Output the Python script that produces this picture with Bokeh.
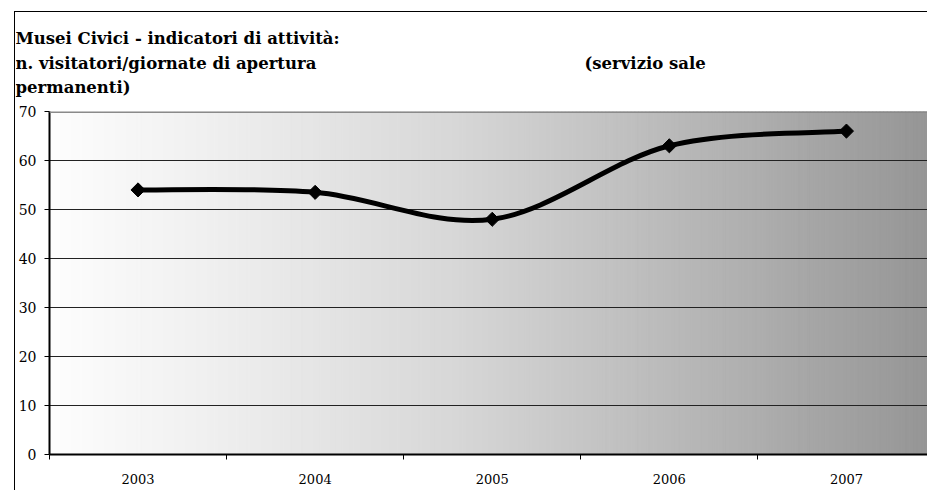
import numpy as np
from bokeh.plotting import figure
from bokeh.layouts import column
from bokeh.models import FixedTicker, Span, Range1d
from bokeh.core.properties import value
from bokeh.embed import file_html
from bokeh.resources import INLINE

# ---- data ----
years = ["2003", "2004", "2005", "2006", "2007"]
values = [54, 53.5, 48, 63, 66]
y_ticks = [0, 10, 20, 30, 40, 50, 60, 70]

title_line1 = "Musei Civici - indicatori di attività:"
title_line2a = "n. visitatori/giornate di apertura"
title_line2b = "(servizio sale"
title_line3 = "permanenti)"

SERIF = "DejaVu Serif"

W = 912
TH = 92          # title band height
PH = 386         # plot figure height
ML, MB, MT = 33, 36, 7
cat_px = 177.3
frame_w = W - ML
x_end = frame_w / cat_px

# ---- title band ----
t = figure(width=W, height=TH, output_backend="svg", toolbar_location=None,
           x_range=Range1d(0, W), y_range=Range1d(TH, 0),
           min_border=0, min_border_left=0, min_border_right=0,
           min_border_top=0, min_border_bottom=0,
           x_axis_location=None, y_axis_location=None)
try:
    t.frame_align = False
except Exception:
    pass
t.outline_line_color = None
t.xgrid.grid_line_color = None
t.ygrid.grid_line_color = None
t.background_fill_color = "white"
t.border_fill_color = "white"
t.text(x=[0, 0, 569, 0], y=[26, 51, 51, 75],
       text=[title_line1, title_line2a, title_line2b, title_line3],
       text_font=value(SERIF), text_font_style="bold", text_font_size="16.5px",
       text_color="black", text_baseline="alphabetic", text_align="left")

# ---- main plot ----
p = figure(width=W, height=PH, output_backend="svg", toolbar_location=None,
           x_range=Range1d(0, x_end), y_range=Range1d(0, 70),
           min_border_left=ML, min_border_right=0, min_border_top=MT,
           min_border_bottom=MB)
try:
    p.frame_align = False
except Exception:
    pass
p.outline_line_color = None
p.background_fill_color = "white"
p.border_fill_color = "white"

# gradient background (style)
n = 240
edges = np.linspace(0, x_end, n + 1)
centers_px = (edges[:-1] + edges[1:]) / 2 * cat_px
stops_px = [0, 202, 402, 602, 880]
stops_val = [254, 236, 216, 189, 150]
g = np.interp(centers_px, stops_px, stops_val)
cols = ["#%02x%02x%02x" % (int(v), int(v), int(v)) for v in g]
bg = p.quad(left=edges[:-1], right=edges[1:], bottom=0, top=70,
            fill_color=cols, line_color=cols, line_width=1)
bg.level = "image"

# grid
p.xgrid.grid_line_color = None
p.ygrid.ticker = FixedTicker(ticks=y_ticks[1:-1])
p.ygrid.grid_line_color = "#222222"
p.ygrid.grid_line_width = 1
p.add_layout(Span(location=70, dimension="width", line_color="#8a8a8a", line_width=3))

# smooth line (Catmull-Rom bezier through the data points)
xs = np.arange(len(years)) + 0.5
ys = np.array(values, dtype=float)
px = np.concatenate([[xs[0]], xs, [xs[-1]]])
py = np.concatenate([[ys[0]], ys, [ys[-1]]])
cx0 = px[1:-2] + (px[2:-1] - px[0:-3]) / 6
cy0 = py[1:-2] + (py[2:-1] - py[0:-3]) / 6
cx1 = px[2:-1] - (px[3:] - px[1:-2]) / 6
cy1 = py[2:-1] - (py[3:] - py[1:-2]) / 6
p.bezier(x0=xs[:-1], y0=ys[:-1], x1=xs[1:], y1=ys[1:],
         cx0=cx0, cy0=cy0, cx1=cx1, cy1=cy1,
         line_color="black", line_width=5)
p.scatter(x=xs, y=ys, marker="square", size=10, angle=np.pi / 4,
          fill_color="black", line_color="black", line_width=1)

# axes
p.yaxis.ticker = FixedTicker(ticks=y_ticks)
p.yaxis.major_tick_out = 5
p.yaxis.major_tick_in = 0
p.yaxis.minor_tick_out = 0
p.yaxis.minor_tick_in = 0
p.yaxis.axis_line_width = 2
p.yaxis.axis_line_color = "black"
p.yaxis.major_tick_line_color = "black"
p.yaxis.major_label_text_font = SERIF
p.yaxis.major_label_text_font_size = "14px"
p.yaxis.major_label_text_color = "black"
p.yaxis.major_label_standoff = 8

p.xaxis.ticker = FixedTicker(ticks=list(xs), minor_ticks=list(range(len(years))))
p.xaxis.major_label_overrides = {float(x): yr for x, yr in zip(xs, years)}
p.xaxis.major_tick_out = 0
p.xaxis.major_tick_in = 0
p.xaxis.minor_tick_out = 5
p.xaxis.minor_tick_in = 0
p.xaxis.minor_tick_line_color = "black"
p.xaxis.axis_line_width = 2
p.xaxis.axis_line_color = "black"
p.xaxis.major_label_text_font = SERIF
p.xaxis.major_label_text_font_size = "13px"
p.xaxis.major_label_text_color = "black"
p.xaxis.major_label_standoff = 14

layout = column(t, p, spacing=0,
                styles={"border-left": "1px solid #000", "border-top": "1px solid #000",
                        "margin-left": "14px", "margin-top": "11px"})

open("out.html", "w").write(file_html(layout, INLINE))
